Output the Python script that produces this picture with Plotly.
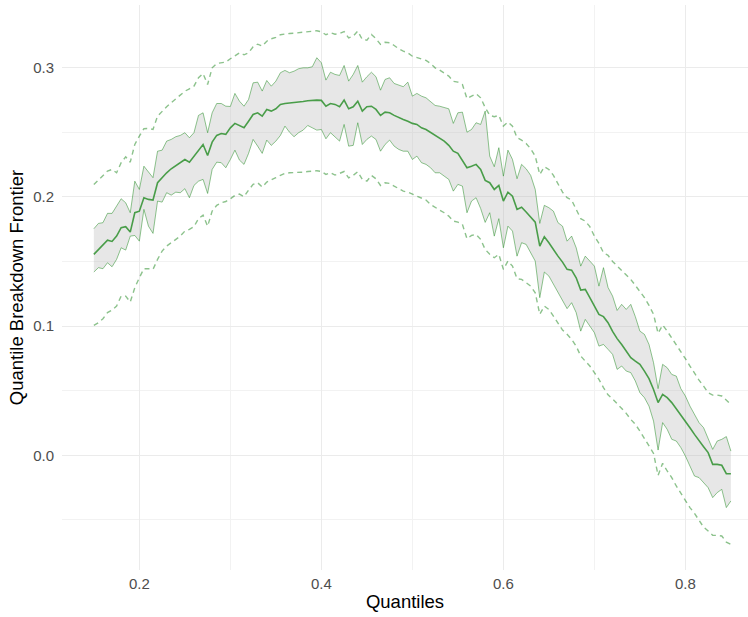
import plotly.graph_objects as go

quantiles = [
    0.150, 0.155, 0.160, 0.165, 0.170, 0.175, 0.180, 0.185, 0.190, 0.195,
    0.200, 0.205, 0.210, 0.215, 0.220, 0.225, 0.230, 0.235, 0.240, 0.245,
    0.250, 0.255, 0.260, 0.265, 0.270, 0.275, 0.280, 0.285, 0.290, 0.295,
    0.300, 0.305, 0.310, 0.315, 0.320, 0.325, 0.330, 0.335, 0.340, 0.345,
    0.350, 0.355, 0.360, 0.365, 0.370, 0.375, 0.380, 0.385, 0.390, 0.395,
    0.400, 0.405, 0.410, 0.415, 0.420, 0.425, 0.430, 0.435, 0.440, 0.445,
    0.450, 0.455, 0.460, 0.465, 0.470, 0.475, 0.480, 0.485, 0.490, 0.495,
    0.500, 0.505, 0.510, 0.515, 0.520, 0.525, 0.530, 0.535, 0.540, 0.545,
    0.550, 0.555, 0.560, 0.565, 0.570, 0.575, 0.580, 0.585, 0.590, 0.595,
    0.600, 0.605, 0.610, 0.615, 0.620, 0.625, 0.630, 0.635, 0.640, 0.645,
    0.650, 0.655, 0.660, 0.665, 0.670, 0.675, 0.680, 0.685, 0.690, 0.695,
    0.700, 0.705, 0.710, 0.715, 0.720, 0.725, 0.730, 0.735, 0.740, 0.745,
    0.750, 0.755, 0.760, 0.765, 0.770, 0.775, 0.780, 0.785, 0.790, 0.795,
    0.800, 0.805, 0.810, 0.815, 0.820, 0.825, 0.830, 0.835, 0.840, 0.845,
    0.850,
]

median = [
    0.1555, 0.1593, 0.1632, 0.1665, 0.1655, 0.1696, 0.1761, 0.1769, 0.1727, 0.1877,
    0.1889, 0.1993, 0.1980, 0.1975, 0.2109, 0.2148, 0.2186, 0.2217, 0.2243, 0.2264,
    0.2289, 0.2268, 0.2315, 0.2367, 0.2405, 0.2320, 0.2423, 0.2475, 0.2490, 0.2483,
    0.2534, 0.2568, 0.2552, 0.2534, 0.2585, 0.2637, 0.2650, 0.2624, 0.2676, 0.2663,
    0.2681, 0.2715, 0.2722, 0.2725, 0.2728, 0.2732, 0.2738, 0.2743, 0.2746, 0.2748,
    0.2746, 0.2701, 0.2722, 0.2715, 0.2697, 0.2748, 0.2681, 0.2697, 0.2740, 0.2663,
    0.2697, 0.2701, 0.2676, 0.2630, 0.2655, 0.2650, 0.2630, 0.2612, 0.2599, 0.2585,
    0.2568, 0.2560, 0.2534, 0.2521, 0.2500, 0.2475, 0.2457, 0.2431, 0.2398, 0.2353,
    0.2336, 0.2276, 0.2225, 0.2237, 0.2251, 0.2212, 0.2127, 0.2109, 0.2057, 0.2088,
    0.1967, 0.2036, 0.2005, 0.1903, 0.1920, 0.1882, 0.1846, 0.1804, 0.1619, 0.1691,
    0.1645, 0.1588, 0.1541, 0.1495, 0.1439, 0.1433, 0.1374, 0.1278, 0.1284, 0.1220,
    0.1150, 0.1090, 0.1073, 0.1026, 0.0959, 0.0903, 0.0858, 0.0807, 0.0756, 0.0729,
    0.0704, 0.0652, 0.0593, 0.0510, 0.0408, 0.0472, 0.0446, 0.0408, 0.0361, 0.0317,
    0.0265, 0.0214, 0.0162, 0.0111, 0.0067, 0.0021, -0.0070, -0.0070, -0.0077, -0.0142,
    -0.0142,
]

upper = [
    0.1753, 0.1794, 0.1800, 0.1872, 0.1872, 0.1928, 0.1985, 0.1954, 0.1877, 0.2121,
    0.2057, 0.2237, 0.2191, 0.2148, 0.2353, 0.2361, 0.2431, 0.2444, 0.2465, 0.2475,
    0.2496, 0.2457, 0.2496, 0.2630, 0.2650, 0.2496, 0.2650, 0.2722, 0.2722, 0.2701,
    0.2699, 0.2800, 0.2740, 0.2701, 0.2753, 0.2882, 0.2887, 0.2818, 0.2900, 0.2856,
    0.2895, 0.2960, 0.2978, 0.2960, 0.2972, 0.2991, 0.2998, 0.2998, 0.3006, 0.3076,
    0.3037, 0.2903, 0.2964, 0.2947, 0.2939, 0.3016, 0.2895, 0.2947, 0.3016, 0.2887,
    0.2929, 0.2964, 0.2929, 0.2825, 0.2908, 0.2921, 0.2877, 0.2862, 0.2852, 0.2887,
    0.2779, 0.2800, 0.2779, 0.2766, 0.2740, 0.2707, 0.2701, 0.2691, 0.2681, 0.2568,
    0.2650, 0.2655, 0.2500, 0.2521, 0.2573, 0.2560, 0.2663, 0.2315, 0.2233, 0.2380,
    0.2160, 0.2361, 0.2289, 0.2140, 0.2251, 0.2217, 0.2166, 0.2057, 0.1794, 0.1934,
    0.1916, 0.1889, 0.1800, 0.1773, 0.1657, 0.1696, 0.1606, 0.1464, 0.1541, 0.1503,
    0.1464, 0.1309, 0.1452, 0.1299, 0.1232, 0.1121, 0.1168, 0.1129, 0.1168, 0.1073,
    0.0961, 0.0936, 0.0858, 0.0717, 0.0516, 0.0704, 0.0678, 0.0626, 0.0613, 0.0516,
    0.0459, 0.0381, 0.0317, 0.0253, 0.0214, 0.0137, 0.0046, 0.0111, 0.0124, 0.0145,
    0.0033,
]

lower = [
    0.1418, 0.1452, 0.1444, 0.1490, 0.1459, 0.1516, 0.1606, 0.1588, 0.1696, 0.1701,
    0.1657, 0.1903, 0.1773, 0.1717, 0.1967, 0.1959, 0.2032, 0.2013, 0.2036, 0.2032,
    0.2063, 0.1993, 0.2088, 0.2121, 0.2135, 0.2026, 0.2212, 0.2268, 0.2264, 0.2225,
    0.2289, 0.2361, 0.2284, 0.2251, 0.2336, 0.2444, 0.2392, 0.2336, 0.2439, 0.2398,
    0.2431, 0.2475, 0.2547, 0.2500, 0.2465, 0.2496, 0.2516, 0.2552, 0.2534, 0.2516,
    0.2521, 0.2449, 0.2496, 0.2465, 0.2431, 0.2560, 0.2392, 0.2398, 0.2573, 0.2405,
    0.2444, 0.2470, 0.2444, 0.2353, 0.2405, 0.2439, 0.2392, 0.2367, 0.2353, 0.2353,
    0.2289, 0.2315, 0.2264, 0.2251, 0.2225, 0.2186, 0.2186, 0.2160, 0.2135, 0.2044,
    0.2096, 0.2083, 0.1877, 0.1967, 0.1993, 0.1910, 0.1802, 0.1877, 0.1696, 0.1831,
    0.1606, 0.1773, 0.1735, 0.1541, 0.1645, 0.1632, 0.1572, 0.1503, 0.1220, 0.1418,
    0.1387, 0.1323, 0.1263, 0.1201, 0.1135, 0.1181, 0.1104, 0.0961, 0.1052, 0.1000,
    0.0949, 0.0845, 0.0858, 0.0820, 0.0781, 0.0665, 0.0691, 0.0652, 0.0640, 0.0575,
    0.0485, 0.0446, 0.0381, 0.0265, 0.0041, 0.0253, 0.0201, 0.0124, 0.0111, 0.0060,
    -0.0005, -0.0083, -0.0160, -0.0172, -0.0211, -0.0250, -0.0327, -0.0288, -0.0263, -0.0404,
    -0.0353,
]

outer_upper = [
    0.2096, 0.2129, 0.2166, 0.2199, 0.2212, 0.2186, 0.2264, 0.2310, 0.2268, 0.2405,
    0.2470, 0.2527, 0.2529, 0.2521, 0.2624, 0.2663, 0.2697, 0.2728, 0.2759, 0.2784,
    0.2817, 0.2836, 0.2856, 0.2921, 0.2954, 0.2869, 0.2998, 0.3032, 0.3037, 0.3042,
    0.3068, 0.3094, 0.3114, 0.3099, 0.3114, 0.3161, 0.3181, 0.3166, 0.3204, 0.3223,
    0.3233, 0.3254, 0.3261, 0.3264, 0.3266, 0.3269, 0.3274, 0.3277, 0.3282, 0.3285,
    0.3277, 0.3254, 0.3269, 0.3258, 0.3264, 0.3279, 0.3229, 0.3243, 0.3282, 0.3217,
    0.3212, 0.3256, 0.3223, 0.3179, 0.3196, 0.3192, 0.3171, 0.3145, 0.3127, 0.3114,
    0.3088, 0.3076, 0.3063, 0.3055, 0.3032, 0.2998, 0.2980, 0.2960, 0.2934, 0.2893,
    0.2887, 0.2869, 0.2759, 0.2779, 0.2797, 0.2766, 0.2691, 0.2630, 0.2620, 0.2630,
    0.2547, 0.2578, 0.2547, 0.2457, 0.2439, 0.2413, 0.2372, 0.2315, 0.2173, 0.2233,
    0.2212, 0.2166, 0.2104, 0.2036, 0.1993, 0.1975, 0.1903, 0.1831, 0.1812, 0.1769,
    0.1696, 0.1640, 0.1568, 0.1547, 0.1500, 0.1464, 0.1433, 0.1400, 0.1361, 0.1315,
    0.1271, 0.1220, 0.1160, 0.1091, 0.0944, 0.1008, 0.0961, 0.0910, 0.0851, 0.0807,
    0.0748, 0.0691, 0.0634, 0.0582, 0.0536, 0.0485, 0.0466, 0.0466, 0.0459, 0.0428,
    0.0394,
]

outer_lower = [
    0.1005, 0.1026, 0.1057, 0.1104, 0.1124, 0.1155, 0.1232, 0.1232, 0.1186, 0.1297,
    0.1374, 0.1444, 0.1444, 0.1439, 0.1516, 0.1580, 0.1619, 0.1645, 0.1665, 0.1696,
    0.1735, 0.1748, 0.1769, 0.1831, 0.1858, 0.1773, 0.1889, 0.1934, 0.1954, 0.1964,
    0.1985, 0.2011, 0.2021, 0.2001, 0.2052, 0.2096, 0.2109, 0.2075, 0.2114, 0.2129,
    0.2148, 0.2166, 0.2181, 0.2186, 0.2186, 0.2189, 0.2191, 0.2196, 0.2199, 0.2202,
    0.2196, 0.2173, 0.2186, 0.2168, 0.2181, 0.2196, 0.2146, 0.2166, 0.2194, 0.2135,
    0.2121, 0.2166, 0.2140, 0.2088, 0.2109, 0.2104, 0.2083, 0.2063, 0.2044, 0.2036,
    0.2021, 0.2005, 0.1985, 0.1975, 0.1941, 0.1916, 0.1897, 0.1877, 0.1851, 0.1812,
    0.1804, 0.1787, 0.1676, 0.1701, 0.1709, 0.1671, 0.1593, 0.1555, 0.1529, 0.1555,
    0.1439, 0.1503, 0.1464, 0.1367, 0.1361, 0.1336, 0.1309, 0.1258, 0.1091, 0.1155,
    0.1129, 0.1077, 0.1021, 0.0969, 0.0936, 0.0897, 0.0845, 0.0768, 0.0729, 0.0691,
    0.0640, 0.0588, 0.0524, 0.0468, 0.0437, 0.0402, 0.0361, 0.0325, 0.0278, 0.0240,
    0.0188, 0.0129, 0.0077, 0.0015, -0.0155, -0.0062, -0.0121, -0.0172, -0.0237, -0.0294,
    -0.0346, -0.0404, -0.0449, -0.0500, -0.0555, -0.0585, -0.0619, -0.0619, -0.0624, -0.0671,
    -0.0688,
]

x_tick_vals = [0.2, 0.4, 0.6, 0.8]
x_tick_text = ["0.2", "0.4", "0.6", "0.8"]
x_minor_vals = [0.3, 0.5, 0.7]
y_tick_vals = [0.0, 0.1, 0.2, 0.3]
y_tick_text = ["0.0", "0.1", "0.2", "0.3"]
y_minor_vals = [-0.05, 0.05, 0.15, 0.25]

for s in (median, upper, lower, outer_upper, outer_lower):
    assert len(s) == len(quantiles), len(s)

GREEN_MED = "rgba(34,139,34,0.8)"
GREEN_BAND = "rgba(34,139,34,0.5)"
GREEN_DASH = "rgba(34,139,34,0.52)"

fig = go.Figure()
fig.add_trace(go.Scatter(x=quantiles, y=lower, mode="lines",
                         line=dict(color=GREEN_BAND, width=1.0), hoverinfo="skip"))
fig.add_trace(go.Scatter(x=quantiles, y=upper, mode="lines", fill="tonexty",
                         fillcolor="rgba(175,175,175,0.3)",
                         line=dict(color=GREEN_BAND, width=1.0), hoverinfo="skip"))
fig.add_trace(go.Scatter(x=quantiles, y=median, mode="lines",
                         line=dict(color=GREEN_MED, width=1.6)))
fig.add_trace(go.Scatter(x=quantiles, y=outer_upper, mode="lines",
                         line=dict(color=GREEN_DASH, width=1.4, dash="5px,4px")))
fig.add_trace(go.Scatter(x=quantiles, y=outer_lower, mode="lines",
                         line=dict(color=GREEN_DASH, width=1.4, dash="5px,4px")))

FONT = "Liberation Sans, Arial, Helvetica, sans-serif"
fig.update_layout(
    width=748, height=617,
    margin=dict(l=62, r=0, t=5, b=47),
    plot_bgcolor="white", paper_bgcolor="white",
    showlegend=False,
    font=dict(family=FONT, color="#4d4d4d"),
    xaxis=dict(
        range=[0.115, 0.8688],
        tickvals=x_tick_vals, ticktext=x_tick_text,
        showgrid=True, gridcolor="#ebebeb", gridwidth=1.3,
        zeroline=False, showline=False, ticks="",
        tickfont=dict(size=15, color="#4d4d4d"),
        ticklabelstandoff=3,
        minor=dict(tickvals=x_minor_vals, showgrid=True, gridcolor="#f2f2f2", gridwidth=0.7),
        title=dict(text="Quantiles", font=dict(size=18.5, color="black"), standoff=4),
        automargin=False,
    ),
    yaxis=dict(
        range=[-0.0887, 0.3484],
        tickvals=y_tick_vals, ticktext=y_tick_text,
        showgrid=True, gridcolor="#ebebeb", gridwidth=1.3,
        zeroline=False, showline=False, ticks="",
        tickfont=dict(size=15, color="#4d4d4d"),
        ticklabelstandoff=7,
        minor=dict(tickvals=y_minor_vals, showgrid=True, gridcolor="#f2f2f2", gridwidth=0.7),
        title=dict(text="Quantile Breakdown Frontier", font=dict(size=18.5, color="black"), standoff=4),
        automargin=False,
    ),
)

fig.write_html("out.html")
